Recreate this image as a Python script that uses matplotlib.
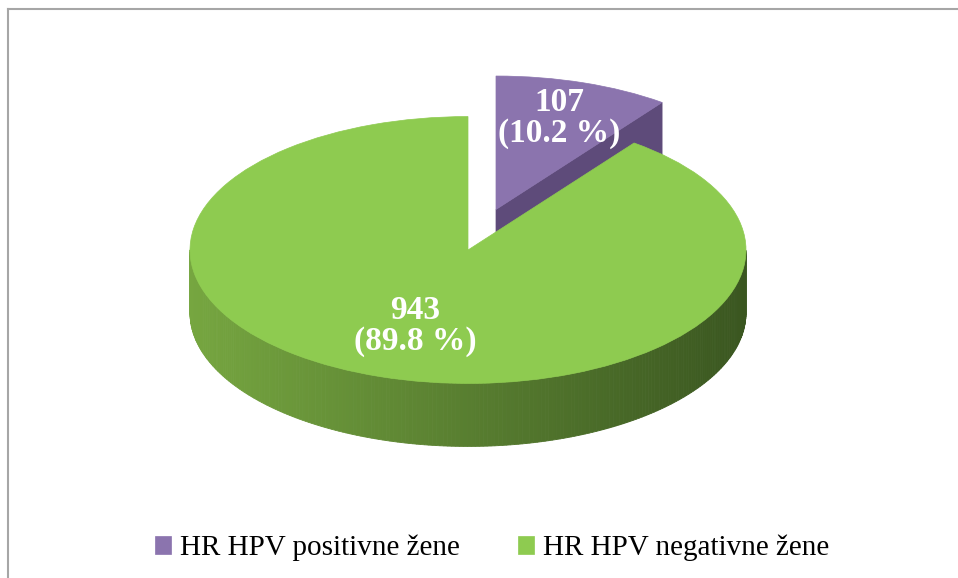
import numpy as np
import matplotlib.pyplot as plt
from matplotlib.patches import Polygon
from matplotlib.transforms import Affine2D
from matplotlib.lines import Line2D
from matplotlib.colors import to_rgb

# data
labels = ['HR HPV positivne žene', 'HR HPV negativne žene']
counts = [107, 943]
percents = [10.2, 89.8]
top_colors = ['#8b74ae', '#8ecb50']
cut_colors = ['#5e4b7a', '#4f7a2a']
side_light = ['#7a62a0', '#76a640']
side_dark = ['#4a3a63', '#3a5620']
explode = [0.32, 0.0]
label_dist = [0.72, 0.6]

plt.rcParams['font.family'] = ['Liberation Serif', 'DejaVu Serif']

W, H = 958, 578
fig = plt.figure(figsize=(W / 100, H / 100), dpi=100)
ax = fig.add_axes([0, 0, 1, 1])

# pie geometry in pixels (y up)
cx, cy = 468, 328
rad = 278
tilt = 0.48
depth = 63

# pie() takes explode in data units, so scale by the radius
wedges, _ = ax.pie(counts, startangle=90, counterclock=False,
                   explode=[e * rad for e in explode],
                   colors=top_colors, radius=rad, center=(cx, cy))
ax.set_xlim(0, W)
ax.set_ylim(0, H)
ax.set_aspect('auto')
ax.axis('off')

squash = Affine2D().translate(-cx, -cy).scale(1, tilt).translate(cx, cy) + ax.transData


def scr(px, py, z=0.0):
    # pre-squash point -> screen point, z lowers it
    return cx + (px - cx), cy + (py - cy) * tilt - z


def shade(i, x):
    t = np.clip((x - (cx - rad)) / (2 * rad), 0, 1)
    a = np.array(to_rgb(side_light[i]))
    b = np.array(to_rgb(side_dark[i]))
    return tuple(a + (b - a) * t)


# back wedges first
order = sorted(range(len(wedges)),
               key=lambda k: -np.sin(np.radians((wedges[k].theta1 + wedges[k].theta2) / 2)))

z = 1
for i in order:
    w = wedges[i]
    wx, wy = w.center
    t1, t2 = w.theta1, w.theta2

    # radial cut faces that face the viewer
    for th, vis in ((t1, np.cos(np.radians(t1)) > 1e-6), (t2, np.cos(np.radians(t2)) < -1e-6)):
        if not vis:
            continue
        rx = wx + rad * np.cos(np.radians(th))
        ry = wy + rad * np.sin(np.radians(th))
        pts = [scr(wx, wy), scr(rx, ry), scr(rx, ry, depth), scr(wx, wy, depth)]
        ax.add_patch(Polygon(pts, closed=True, facecolor=cut_colors[i],
                             edgecolor=cut_colors[i], lw=0.5, zorder=z))

    # outer rim, front half only
    ang = np.linspace(t1, t2, 400)
    for a0, a1 in zip(ang[:-1], ang[1:]):
        am = np.radians((a0 + a1) / 2)
        if np.sin(am) >= 0:
            continue
        p0 = (wx + rad * np.cos(np.radians(a0)), wy + rad * np.sin(np.radians(a0)))
        p1 = (wx + rad * np.cos(np.radians(a1)), wy + rad * np.sin(np.radians(a1)))
        pts = [scr(*p0), scr(*p1), scr(*p1, depth), scr(*p0, depth)]
        c = shade(i, p0[0])
        ax.add_patch(Polygon(pts, closed=True, facecolor=c, edgecolor=c,
                             lw=0.6, zorder=z))

    w.set_transform(squash)
    w.set_zorder(z + 1)
    w.set_edgecolor(top_colors[i])
    w.set_linewidth(0.5)

    # value label
    bis = np.radians((t1 + t2) / 2)
    lx, ly = scr(wx + label_dist[i] * rad * np.cos(bis), wy + label_dist[i] * rad * np.sin(bis))
    ax.text(lx, ly, f'{counts[i]}\n({percents[i]} %)', ha='center', va='center',
            color='white', fontsize=24, fontweight='bold', linespacing=1.0, zorder=20)
    z += 3

fig.legend(wedges, labels, loc='center', bbox_to_anchor=(492 / W, 1 - 548 / H), ncol=2,
           frameon=False, fontsize=21, handlelength=0.55, handleheight=0.55,
           columnspacing=2.0, handletextpad=0.3)

# chart border (top and left only visible)
fig.add_artist(Line2D([8 / W, 1], [1 - 9 / H, 1 - 9 / H], color='#a6a6a6', lw=1.5,
                      transform=fig.transFigure))
fig.add_artist(Line2D([8 / W, 8 / W], [0, 1 - 9 / H], color='#a6a6a6', lw=1.5,
                      transform=fig.transFigure))

fig.savefig('out.png', dpi=100)
